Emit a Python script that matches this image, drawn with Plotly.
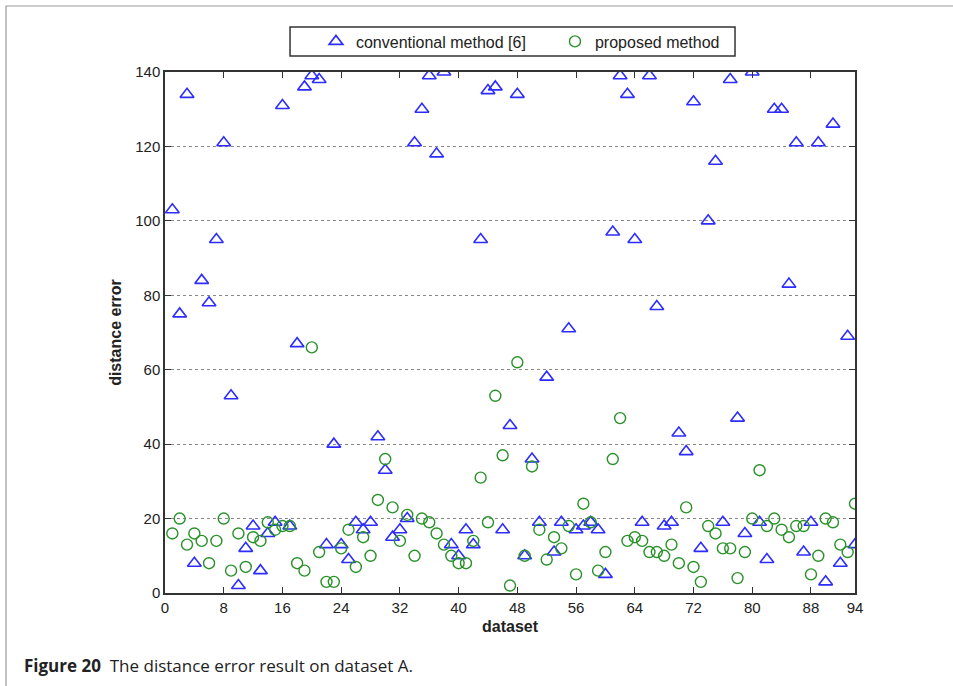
import plotly.graph_objects as go

datasets = list(range(1, 95))

conventional = [103, 75, 134, 8, 84, 78, 95, 121, 53, 2,
                12, 18, 6, 16, 19, 131, 18, 67, 136, 139,
                138, 13, 40, 13, 9, 19, 17, 19, 42, 33,
                15, 17, 20, 121, 130, 139, 118, 140, 13, 10,
                17, 13, 95, 135, 136, 17, 45, 134, 10, 36,
                19, 58, 11, 19, 71, 17, 18, 19, 17, 5,
                97, 139, 134, 95, 19, 139, 77, 18, 19, 43,
                38, 132, 12, 100, 116, 19, 138, 47, 16, 140,
                19, 9, 130, 130, 83, 121, 11, 19, 121, 3,
                126, 8, 69, 13]

proposed = [16, 20, 13, 16, 14, 8, 14, 20, 6, 16,
            7, 15, 14, 19, 17, 18, 18, 8, 6, 66,
            11, 3, 3, 12, 17, 7, 15, 10, 25, 36,
            23, 14, 21, 10, 20, 19, 16, 13, 10, 8,
            8, 14, 31, 19, 53, 37, 2, 62, 10, 34,
            17, 9, 15, 12, 18, 5, 24, 19, 6, 11,
            36, 47, 14, 15, 14, 11, 11, 10, 13, 8,
            23, 7, 3, 18, 16, 12, 12, 4, 11, 20,
            33, 18, 20, 17, 15, 18, 18, 5, 10, 20,
            19, 13, 11, 24]

x_ticks = [0, 8, 16, 24, 32, 40, 48, 56, 64, 72, 80, 88, 94]
y_ticks = [0, 20, 40, 60, 80, 100, 120, 140]

fig = go.Figure()
fig.add_trace(go.Scatter(
    x=datasets, y=conventional, mode="markers",
    name="conventional method [6]",
    marker=dict(symbol="triangle-up-open", size=12, color="rgb(45,45,255)",
                line=dict(width=1.6, color="rgb(45,45,255)")),
))
fig.add_trace(go.Scatter(
    x=datasets, y=proposed, mode="markers",
    name="proposed method",
    marker=dict(symbol="circle-open", size=11, color="rgb(40,145,40)",
                line=dict(width=1.4, color="rgb(40,145,40)")),
))

tick_font = dict(family="Liberation Sans, Arial, sans-serif", size=15, color="#222")
title_font = dict(family="Liberation Sans, Arial, sans-serif", size=16, color="#222")

fig.update_layout(
    width=953, height=686,
    margin=dict(l=165, r=98, t=72, b=93),
    paper_bgcolor="white", plot_bgcolor="white",
    showlegend=True,
    legend=dict(
        orientation="h", x=0.2188, xanchor="left", y=1.0585, yanchor="middle",
        borderwidth=0, bgcolor="rgba(0,0,0,0)",
        font=dict(family="Liberation Sans, Arial, sans-serif", size=16, color="#222"),
        entrywidth=194, itemwidth=30,
    ),
    xaxis=dict(
        range=[0, 94], tickvals=x_ticks, ticktext=[str(v) for v in x_ticks],
        ticks="inside", ticklen=6, tickcolor="#333", mirror="ticks",
        showline=True, linecolor="#333", linewidth=1.5,
        showgrid=False, zeroline=False, tickfont=tick_font,
        title=dict(text="<b>dataset</b>", font=title_font, standoff=6),
    ),
    yaxis=dict(
        range=[0, 140], tickvals=y_ticks, ticktext=[str(v) for v in y_ticks],
        ticks="inside", ticklen=6, tickcolor="#333", mirror="ticks",
        showline=True, linecolor="#333", linewidth=1.5,
        showgrid=True, gridcolor="#888", griddash="dot", gridwidth=1,
        zeroline=False, tickfont=tick_font,
        title=dict(text="<b>distance error</b>", font=title_font, standoff=10),
    ),
    shapes=[
        # legend box
        dict(type="rect", xref="paper", yref="paper",
             x0=0.1812, x1=0.8261, y0=1.0307, y1=1.0864,
             line=dict(color="#333", width=1.5), fillcolor="white", layer="below"),
        # outer figure frame (left and top edges visible)
        dict(type="rect", xref="paper", yref="paper",
             x0=(6 - 165) / 690, x1=1.2, y0=-0.3, y1=(593 - 6) / 521,
             line=dict(color="#999", width=1.2), layer="below"),
    ],
    annotations=[
        dict(text="<b>Figure 20</b>  The distance error result on dataset A.",
             xref="paper", yref="paper", x=(22 - 165) / 690, y=(593 - 665) / 521,
             xanchor="left", yanchor="middle", showarrow=False,
             font=dict(family="Open Sans, Noto Sans, sans-serif", size=17, color="#222")),
    ],
)

fig.write_html("out.html", config={"displayModeBar": False},
               post_script="document.body.style.margin='0';")
